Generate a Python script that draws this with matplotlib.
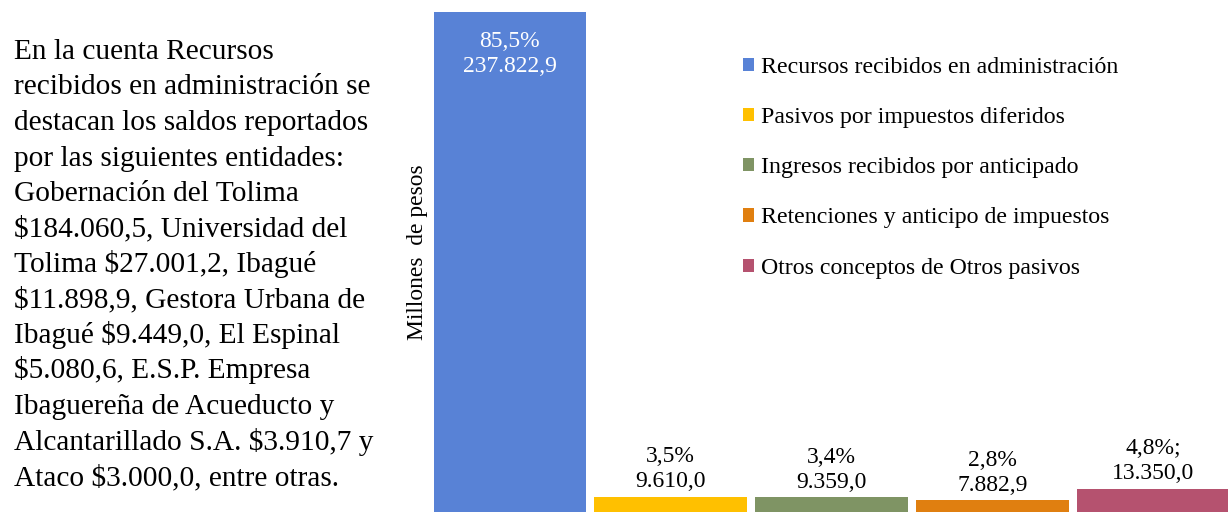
import matplotlib
matplotlib.use("Agg")
import matplotlib.pyplot as plt

categories = ["Recursos recibidos en administración",
              "Pasivos por impuestos diferidos",
              "Ingresos recibidos por anticipado",
              "Retenciones y anticipo de impuestos",
              "Otros conceptos de Otros pasivos"]
values = [237822.9, 9610.0, 9359.0, 7882.9, 13350.0]
value_labels = ["237.822,9", "9.610,0", "9.359,0", "7.882,9", "13.350,0"]
pct_labels = ["85,5%", "3,5%", "3,4%", "2,8%", "4,8%;"]
colors = ["#5882D6", "#FFC000", "#7F9464", "#E07F10", "#B5526F"]

paragraph = ["En la cuenta Recursos",
             "recibidos en administración se",
             "destacan los saldos reportados",
             "por las siguientes entidades:",
             "Gobernación del Tolima",
             "$184.060,5, Universidad del",
             "Tolima $27.001,2, Ibagué",
             "$11.898,9, Gestora Urbana de",
             "Ibagué $9.449,0, El Espinal",
             "$5.080,6, E.S.P. Empresa",
             "Ibaguereña de Acueducto y",
             "Alcantarillado S.A. $3.910,7 y",
             "Ataco $3.000,0, entre otras."]

plt.rcParams['font.family'] = ['Liberation Serif', 'DejaVu Serif']

W, H = 1228, 512
fig = plt.figure(figsize=(W / 100, H / 100), dpi=100)

# paragraph on the left
for i, line in enumerate(paragraph):
    y = 59 + 35.5 * i
    fig.text(14 / W, 1 - y / H, line, fontsize=21.2, va='baseline', ha='left', color='black')

# bar axes (bottom extends slightly below the figure)
ax_left, ax_right = 429.5, 1233.5
ax_top, ax_bottom = 12, 517
ax = fig.add_axes([ax_left / W, 1 - ax_bottom / H, (ax_right - ax_left) / W, (ax_bottom - ax_top) / H])
x = list(range(len(categories)))
bars = ax.bar(x, values, width=0.95, color=colors, label=categories)
ax.set_xlim(-0.5, len(categories) - 0.5)
ax.set_ylim(0, max(values))
for s in ax.spines.values():
    s.set_visible(False)
ax.set_xticks([])
ax.set_yticks([])

fig.text(417 / W, 1 - 252 / H, "Millones  de pesos", rotation=90, fontsize=16.9,
         ha='center', va='center')

for i, (v, vl, pl) in enumerate(zip(values, value_labels, pct_labels)):
    txt = f"{pl}\n{vl}"
    if i == 0:
        ax.annotate(txt, (i, v), xytext=(0, -13.5), textcoords='offset points',
                    ha='center', va='top', fontsize=17, color='white', linespacing=1.25)
    else:
        ax.annotate(txt, (i, v), xytext=(0, 3), textcoords='offset points',
                    ha='center', va='bottom', fontsize=17, color='black', linespacing=1.25)

leg = ax.legend(handles=list(bars), labels=categories, loc='upper left',
                bbox_to_anchor=(743 / W, 1 - 57 / H), bbox_transform=fig.transFigure,
                frameon=False, fontsize=17.2, handlelength=0.47, handleheight=0.47,
                handletextpad=0.3, labelspacing=1.22, borderpad=0, borderaxespad=0)

fig.savefig("out.png", dpi=100)
